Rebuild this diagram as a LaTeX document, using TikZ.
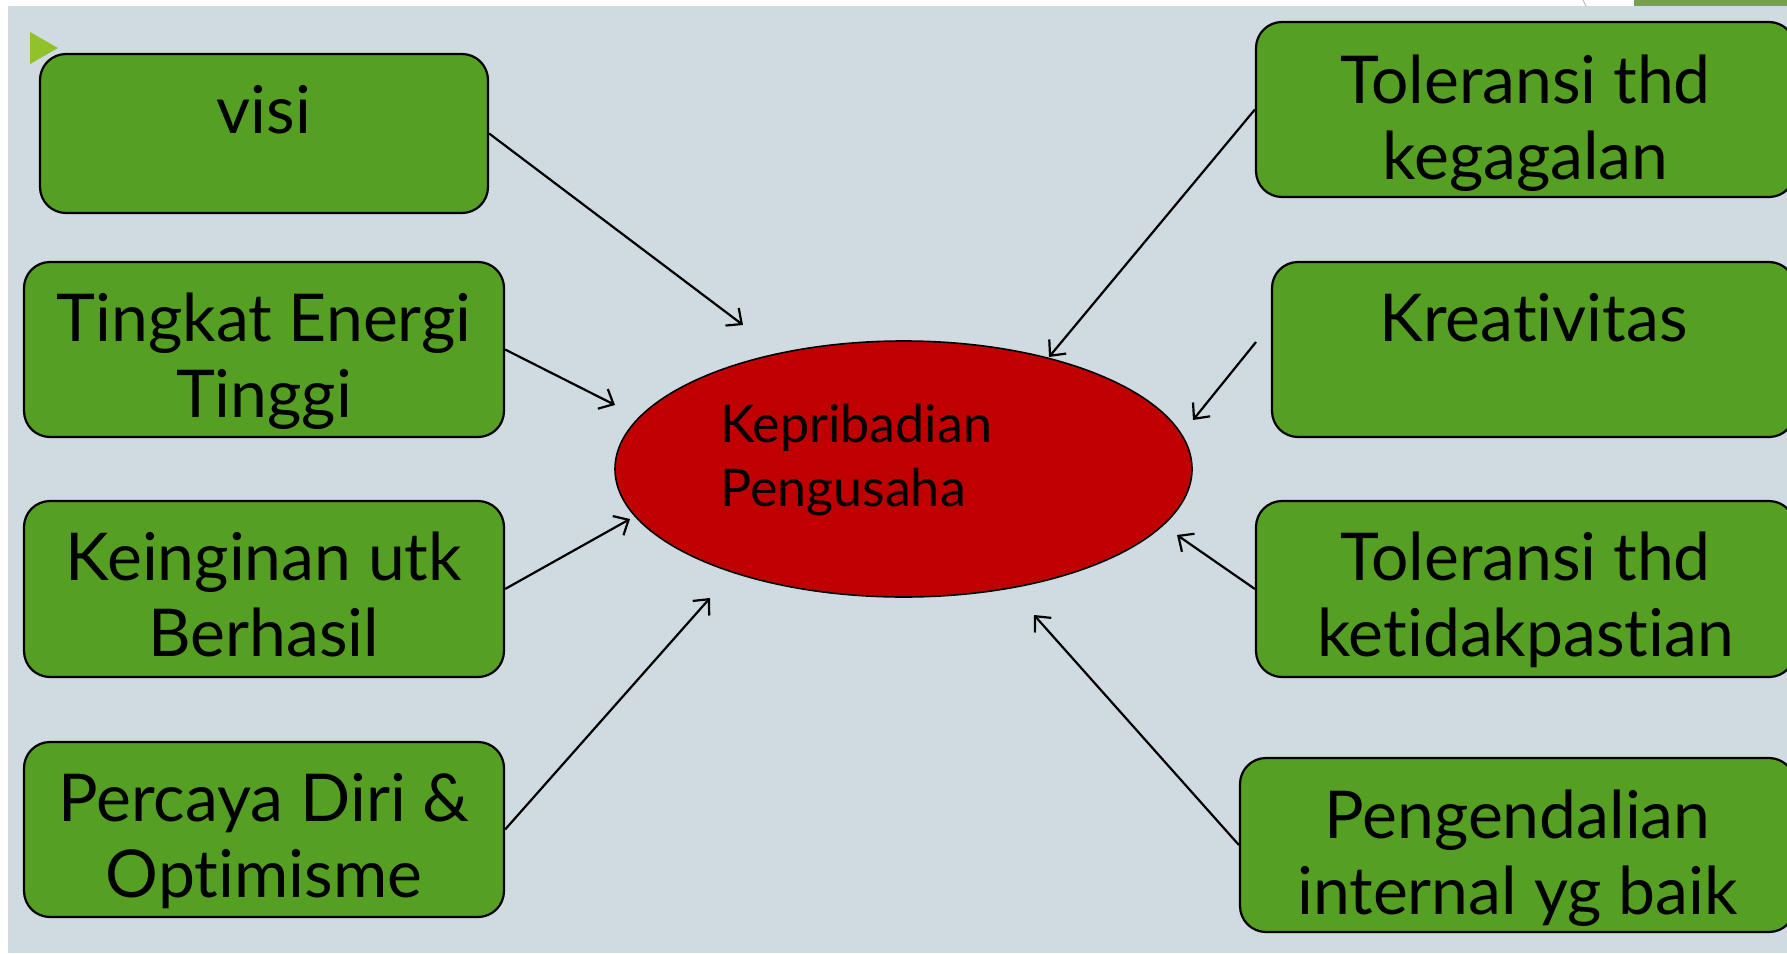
\documentclass[tikz,border=0pt]{standalone}
\usepackage{fontspec}
\setmainfont[Ligatures=NoCommon]{Lato}
\usetikzlibrary{shapes.geometric,arrows.meta}
\definecolor{slidebg}{HTML}{CFDBE0}
\definecolor{boxgreen}{HTML}{55A022}
\definecolor{corered}{HTML}{C00000}
\definecolor{bulletgreen}{HTML}{92C12A}
\definecolor{topgreen}{HTML}{77A055}

\tikzset{
  factor/.style={draw=black, line width=2.2bp, fill=boxgreen, rounded corners=26bp, inner sep=0pt},
  factortext/.style={font=\fontsize{66bp}{76bp}\selectfont, align=center, anchor=base, inner sep=0pt},
  core/.style={ellipse, draw=black, line width=1.6bp, fill=corered, inner sep=0pt,
    minimum width=577bp, minimum height=256bp},
  coretext/.style={font=\fontsize{52bp}{64bp}\selectfont, align=left, anchor=base west, inner sep=0pt},
  link/.style={line width=2.2bp, -{Straight Barb[length=12bp, width=22bp]}}
}

\begin{document}
\begin{tikzpicture}[x=1bp, y=-1bp]
  \useasboundingbox (0,0) rectangle (1787,953);
  \fill[white] (0,0) rectangle (1787,953);
  \fill[topgreen] (1634,0) rectangle (1787,6);
  \draw[gray!60, line width=0.8bp] (1583,0) -- (1586,6);
  \fill[slidebg] (8,6) rectangle (1787,953);
  \fill[bulletgreen] (30,32) -- (58,48) -- (30,64) -- cycle;

  % === LEFT FACTORS ===
  \node[factor, minimum width=448bp, minimum height=159bp] (visi) at (264,133.5) {};
  \node[factortext] (visi-t) at ([yshift=-81bp]visi.north) {visi};

  \node[factor, minimum width=480bp, minimum height=175bp] (energi) at (264,349.5) {};
  \node[factortext] (energi-t) at ([yshift=-157bp]energi.north) {Tingkat Energi\\Tinggi};

  \node[factor, minimum width=480bp, minimum height=176bp] (ingin) at (264,589) {};
  \node[factortext] (ingin-t) at ([yshift=-157bp]ingin.north) {Keinginan utk\\Berhasil};

  \node[factor, minimum width=480bp, minimum height=175bp] (yakin) at (264,829.5) {};
  \node[factortext] (yakin-t) at ([yshift=-157bp]yakin.north) {Percaya Diri \&\\Optimisme};

  % === RIGHT FACTORS ===
  \node[factor, minimum width=539bp, minimum height=175bp] (gagal) at (1525.5,109.5) {};
  \node[factortext] (gagal-t) at ([yshift=-159bp]gagal.north) {Toleransi thd\\kegagalan};

  \node[factor, minimum width=523bp, minimum height=175bp] (kreatif) at (1533.5,349.5) {};
  \node[factortext] (kreatif-t) at ([yshift=-81bp]kreatif.north) {Kreativitas};

  \node[factor, minimum width=539bp, minimum height=176bp] (pasti) at (1525.5,589) {};
  \node[factortext] (pasti-t) at ([yshift=-157bp]pasti.north) {Toleransi thd\\ketidakpastian};

  \node[factor, minimum width=555bp, minimum height=174bp] (kendali) at (1517.5,845) {};
  \node[factortext] (kendali-t) at ([yshift=-158bp]kendali.north) {Pengendalian\\internal yg baik};

  % === CENTRE ===
  \node[core] (pribadi) at (903.5,469) {};
  \node[coretext] (pribadi-t) at (720,506) {Kepribadian\\Pengusaha};

  % === CONNECTORS ===
  \coordinate (visi-in) at (743,325);
  \coordinate (energi-in) at (615,405);
  \coordinate (ingin-in) at (630,519);
  \coordinate (yakin-in) at (710,598);
  \coordinate (gagal-in) at (1049,357);
  \coordinate (kreatif-out) at (1256,342);
  \coordinate (kreatif-in) at (1193,420);
  \coordinate (pasti-in) at (1177,535);
  \coordinate (kendali-in) at (1034,615);

  \draw[link] (visi.east) -- (visi-in);
  \draw[link] (energi.east) -- (energi-in);
  \draw[link] (ingin.east) -- (ingin-in);
  \draw[link] (yakin.east) -- (yakin-in);
  \draw[link] (gagal.west) -- (gagal-in);
  \draw[link] (kreatif-out) -- (kreatif-in);
  \draw[link] (pasti.west) -- (pasti-in);
  \draw[link] (kendali.west) -- (kendali-in);
\end{tikzpicture}
\end{document}
